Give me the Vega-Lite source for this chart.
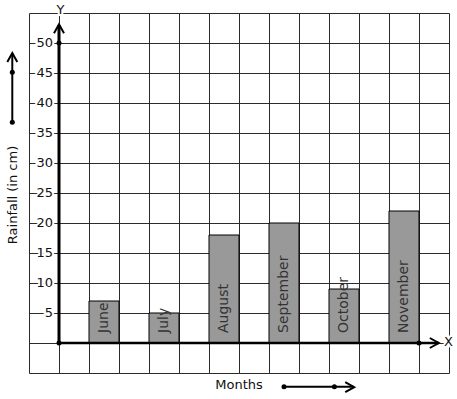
{
  "$schema": "https://vega.github.io/schema/vega-lite/v6.json",
  "width": 420,
  "height": 360,
  "autosize": {"type": "none"},
  "padding": {"left": 29, "top": 13, "right": 8, "bottom": 26},
  "background": "white",
  "data": {"values": [{}]},
  "config": {
    "view": {"stroke": null},
    "font": "DejaVu Sans",
    "axis": {"grid": true, "gridColor": "#2b2b2b", "gridOpacity": 1, "gridWidth": 1, "labels": false, "ticks": false, "domain": false, "title": null, "labelOverlap": false, "tickCount": 100}
  },
  "datasets": {
    "rain": [
      {"month": "June", "rainfall": 7},
      {"month": "July", "rainfall": 5},
      {"month": "August", "rainfall": 18},
      {"month": "September", "rainfall": 20},
      {"month": "October", "rainfall": 9},
      {"month": "November", "rainfall": 22}
    ],
    "ticks": [{"v": 5}, {"v": 10}, {"v": 15}, {"v": 20}, {"v": 25}, {"v": 30}, {"v": 35}, {"v": 40}, {"v": 45}, {"v": 50}]
  },
  "layer": [
    {
      "data": {"name": "rain"},
      "transform": [
        {"window": [{"op": "row_number", "as": "i"}]},
        {"calculate": "2*datum.i-1", "as": "x0"},
        {"calculate": "2*datum.i", "as": "x1"}
      ],
      "mark": {"type": "rect", "fill": "#999999", "stroke": "#000000", "strokeWidth": 1},
      "encoding": {
        "x": {"field": "x0", "type": "quantitative", "scale": {"domain": [-1, 13], "nice": false, "zero": false}, "axis": {"values": [-1, 0, 1, 2, 3, 4, 5, 6, 7, 8, 9, 10, 11, 12, 13], "labelOverlap": false, "tickCount": 100}},
        "x2": {"field": "x1"},
        "y": {"field": "rainfall", "type": "quantitative", "scale": {"domain": [-5, 55], "nice": false, "zero": false}, "axis": {"values": [-5, 0, 5, 10, 15, 20, 25, 30, 35, 40, 45, 50, 55], "labelOverlap": false, "tickCount": 100}},
        "y2": {"datum": 0}
      }
    },
    {
      "data": {"name": "rain"},
      "transform": [
        {"window": [{"op": "row_number", "as": "i"}]},
        {"calculate": "2*datum.i-0.5", "as": "xc"}
      ],
      "mark": {"type": "text", "angle": 270, "align": "left", "baseline": "middle", "fontSize": 14, "fill": "#333333"},
      "encoding": {
        "x": {"field": "xc", "type": "quantitative"},
        "y": {"datum": 1.67, "type": "quantitative"},
        "text": {"field": "month"}
      }
    },
    {
      "mark": {"type": "rule", "stroke": "#000000", "strokeWidth": 3},
      "encoding": {"x": {"datum": 0, "type": "quantitative"}, "y": {"datum": 0, "type": "quantitative"}, "y2": {"datum": 53}}
    },
    {
      "mark": {"type": "rule", "stroke": "#000000", "strokeWidth": 2.5},
      "encoding": {"x": {"datum": 0, "type": "quantitative"}, "x2": {"datum": 12.67}, "y": {"datum": 0, "type": "quantitative"}}
    },
    {
      "mark": {"type": "rule", "stroke": "#000000", "strokeWidth": 2},
      "encoding": {"x": {"datum": -1.557, "type": "quantitative"}, "y": {"datum": 36.78, "type": "quantitative"}, "y2": {"datum": 48.33}}
    },
    {
      "mark": {"type": "rule", "stroke": "#000000", "strokeWidth": 2},
      "encoding": {"x": {"datum": 7.5, "type": "quantitative"}, "x2": {"datum": 9.83}, "y": {"datum": -7.3, "type": "quantitative"}}
    },
    {
      "mark": {"type": "point", "shape": "M-1,0.9L0,-0.9L1,0.9", "filled": false, "stroke": "#000000", "strokeWidth": 2, "size": 100, "opacity": 1},
      "encoding": {"x": {"datum": 0, "type": "quantitative"}, "y": {"datum": 52.37, "type": "quantitative"}}
    },
    {
      "mark": {"type": "point", "shape": "M-1,0.9L0,-0.9L1,0.9", "filled": false, "stroke": "#000000", "strokeWidth": 2, "size": 100, "opacity": 1},
      "encoding": {"x": {"datum": -1.557, "type": "quantitative"}, "y": {"datum": 47.58, "type": "quantitative"}}
    },
    {
      "mark": {"type": "point", "shape": "M-0.9,-1L0.9,0L-0.9,1", "filled": false, "stroke": "#000000", "strokeWidth": 2, "size": 100, "opacity": 1},
      "encoding": {"x": {"datum": 12.51, "type": "quantitative"}, "y": {"datum": 0, "type": "quantitative"}}
    },
    {
      "mark": {"type": "point", "shape": "M-0.9,-1L0.9,0L-0.9,1", "filled": false, "stroke": "#000000", "strokeWidth": 2, "size": 100, "opacity": 1},
      "encoding": {"x": {"datum": 9.69, "type": "quantitative"}, "y": {"datum": -7.37, "type": "quantitative"}}
    },
    {
      "mark": {"type": "point", "shape": "circle", "filled": true, "fill": "#000000", "size": 25, "opacity": 1},
      "encoding": {"x": {"datum": 0, "type": "quantitative"}, "y": {"datum": 0, "type": "quantitative"}}
    },
    {
      "mark": {"type": "point", "shape": "circle", "filled": true, "fill": "#000000", "size": 25, "opacity": 1},
      "encoding": {"x": {"datum": 0, "type": "quantitative"}, "y": {"datum": 50, "type": "quantitative"}}
    },
    {
      "mark": {"type": "point", "shape": "circle", "filled": true, "fill": "#000000", "size": 25, "opacity": 1},
      "encoding": {"x": {"datum": 12, "type": "quantitative"}, "y": {"datum": 0, "type": "quantitative"}}
    },
    {
      "mark": {"type": "point", "shape": "circle", "filled": true, "fill": "#000000", "size": 25, "opacity": 1},
      "encoding": {"x": {"datum": -1.557, "type": "quantitative"}, "y": {"datum": 45.12, "type": "quantitative"}}
    },
    {
      "mark": {"type": "point", "shape": "circle", "filled": true, "fill": "#000000", "size": 25, "opacity": 1},
      "encoding": {"x": {"datum": -1.557, "type": "quantitative"}, "y": {"datum": 36.78, "type": "quantitative"}}
    },
    {
      "mark": {"type": "point", "shape": "circle", "filled": true, "fill": "#000000", "size": 25, "opacity": 1},
      "encoding": {"x": {"datum": 7.5, "type": "quantitative"}, "y": {"datum": -7.3, "type": "quantitative"}}
    },
    {
      "mark": {"type": "point", "shape": "circle", "filled": true, "fill": "#000000", "size": 25, "opacity": 1},
      "encoding": {"x": {"datum": 9.18, "type": "quantitative"}, "y": {"datum": -7.3, "type": "quantitative"}}
    },
    {
      "data": {"name": "ticks"},
      "mark": {"type": "text", "align": "right", "baseline": "middle", "fontSize": 13, "fill": "#ffffff", "stroke": "#ffffff", "strokeWidth": 4},
      "encoding": {"x": {"datum": -0.2, "type": "quantitative"}, "y": {"field": "v", "type": "quantitative"}, "text": {"field": "v"}}
    },
    {
      "data": {"name": "ticks"},
      "mark": {"type": "text", "align": "right", "baseline": "middle", "fontSize": 13, "fill": "#111111"},
      "encoding": {"x": {"datum": -0.2, "type": "quantitative"}, "y": {"field": "v", "type": "quantitative"}, "text": {"field": "v"}}
    },
    {
      "mark": {"type": "text", "text": "Y", "align": "center", "baseline": "middle", "fontSize": 13, "fill": "#ffffff", "stroke": "#ffffff", "strokeWidth": 4},
      "encoding": {"x": {"datum": 0.05, "type": "quantitative"}, "y": {"datum": 55.5, "type": "quantitative"}}
    },
    {
      "mark": {"type": "text", "text": "Y", "align": "center", "baseline": "middle", "fontSize": 13, "fill": "#111111"},
      "encoding": {"x": {"datum": 0.05, "type": "quantitative"}, "y": {"datum": 55.5, "type": "quantitative"}}
    },
    {
      "mark": {"type": "text", "text": "X", "align": "center", "baseline": "middle", "fontSize": 13, "fill": "#ffffff", "stroke": "#ffffff", "strokeWidth": 4},
      "encoding": {"x": {"datum": 12.98, "type": "quantitative"}, "y": {"datum": 0.17, "type": "quantitative"}}
    },
    {
      "mark": {"type": "text", "text": "X", "align": "center", "baseline": "middle", "fontSize": 13, "fill": "#111111"},
      "encoding": {"x": {"datum": 12.98, "type": "quantitative"}, "y": {"datum": 0.17, "type": "quantitative"}}
    },
    {
      "mark": {"type": "text", "text": "Months", "align": "center", "baseline": "middle", "fontSize": 13, "fill": "#111111"},
      "encoding": {"x": {"datum": 6.0, "type": "quantitative"}, "y": {"datum": -7.0, "type": "quantitative"}}
    },
    {
      "mark": {"type": "text", "text": "Rainfall (in cm)", "angle": 270, "align": "center", "baseline": "middle", "fontSize": 13, "fill": "#111111"},
      "encoding": {"x": {"datum": -1.533, "type": "quantitative"}, "y": {"datum": 24.67, "type": "quantitative"}}
    }
  ]
}
